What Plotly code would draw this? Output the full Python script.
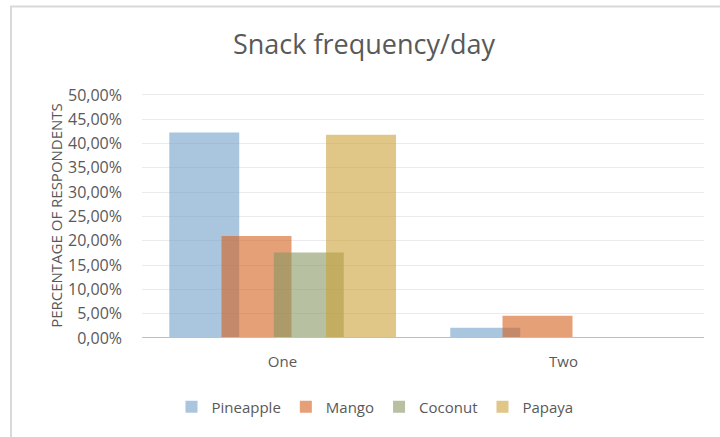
import plotly.graph_objects as go

categories = ["One", "Two"]
series_names = ["Pineapple", "Mango", "Coconut", "Papaya"]
pineapple = [42.3, 2.1]
mango = [21.0, 4.6]
coconut = [17.6, 0.0]
papaya = [41.8, 0.0]
tick_vals = [0, 5, 10, 15, 20, 25, 30, 35, 40, 45, 50]
tick_text = ["0,00%", "5,00%", "10,00%", "15,00%", "20,00%", "25,00%",
             "30,00%", "35,00%", "40,00%", "45,00%", "50,00%"]

values = [pineapple, mango, coconut, papaya]
colors = ["rgba(113,160,200,0.6)", "rgba(213,97,30,0.6)",
          "rgba(135,150,97,0.6)", "rgba(203,160,55,0.6)"]
offsets = [-0.403, -0.217, -0.031, 0.155]
bar_w = 0.249

fig = go.Figure()
for name, vals, col, off in zip(series_names, values, colors, offsets):
    fig.add_trace(go.Bar(
        x=[0, 1], y=vals, name=name,
        marker=dict(color=col, line=dict(width=0)),
        offset=off, width=bar_w,
    ))

FONT = "Open Sans"
TXT = "#595959"
W, H = 720, 437
YMAX = 50.4
L, R, B = 142, 16, 99
zero_px, fifty_px = 338, 95
px_per = (zero_px - fifty_px) / 50.0
T = int(round(zero_px - YMAX * px_per))
pw = W - L - R
ph = H - T - B

fig.update_layout(
    width=W, height=H,
    margin=dict(l=L, r=R, t=T, b=B),
    barmode="overlay",
    plot_bgcolor="white", paper_bgcolor="white",
    font=dict(family=FONT, color=TXT),
    title=dict(text="Snack frequency/day", x=364 / W, xanchor="center",
               y=1 - 45 / H, yanchor="middle",
               font=dict(size=27, color=TXT, family=FONT)),
    xaxis=dict(range=[-0.5, 1.5], tickvals=[0, 1], ticktext=categories,
               showgrid=False, showline=False, zeroline=False, ticks="",
               tickfont=dict(size=15, color=TXT), ticklabelstandoff=13),
    yaxis=dict(range=[0, YMAX], tickvals=tick_vals, ticktext=tick_text,
               showgrid=True, gridcolor="#ebebeb", gridwidth=1,
               zeroline=False, showline=False, ticks="",
               tickfont=dict(size=16, color=TXT), ticklabelstandoff=19,
               title=dict(text="PERCENTAGE OF RESPONDENTS",
                          font=dict(size=15, color=TXT), standoff=1)),
    legend=dict(orientation="h", x=375 / W, xanchor="center",
                xref="container", yref="container",
                y=1 - 407 / H, yanchor="middle",
                font=dict(size=15, color=TXT),
                itemwidth=30, traceorder="normal"),
    showlegend=True,
)
# zero axis line
fig.add_shape(type="line", xref="paper", yref="y", x0=0, x1=1, y0=0, y1=0,
              line=dict(color="#bfbfbf", width=2), layer="above")
# outer chart border (top and left)
fig.add_shape(type="line", xref="paper", yref="paper",
              x0=(10 - L) / pw, x1=(W + 5 - L) / pw,
              y0=1 + (T - 6.5) / ph, y1=1 + (T - 6.5) / ph,
              line=dict(color="#d9d9d9", width=2))
fig.add_shape(type="line", xref="paper", yref="paper",
              x0=(11 - L) / pw, x1=(11 - L) / pw,
              y0=1 + (T - 6.5) / ph, y1=-(B + 5) / ph,
              line=dict(color="#d9d9d9", width=2))

fig.write_html("out.html", config={"displayModeBar": False},
               post_script="document.body.style.margin='0';")
